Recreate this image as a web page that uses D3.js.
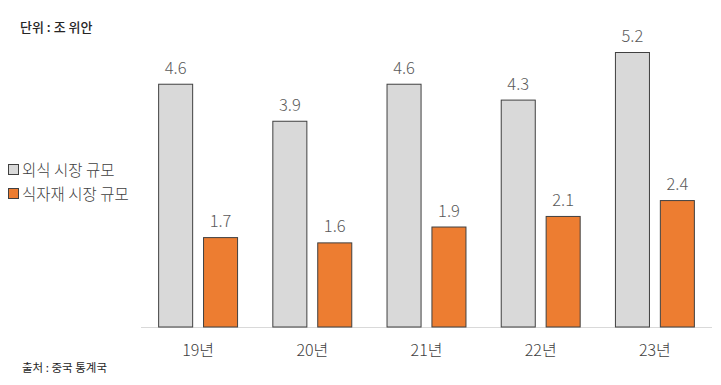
<!DOCTYPE html>
<html><head><meta charset="utf-8">
<script src="https://cdn.jsdelivr.net/npm/d3@7"></script>
<style>body{margin:0;background:#fff;} text{font-family:"Noto Sans CJK KR","Noto Sans",sans-serif;}</style>
</head><body><svg id="c" width="721" height="385"></svg>
<script>
const categories = ["19년","20년","21년","22년","23년"];
const seriesNames = ["외식 시장 규모","식자재 시장 규모"];
const foodService = [4.6, 3.9, 4.6, 4.3, 5.2];
const ingredients = [1.7, 1.6, 1.9, 2.1, 2.4];
const colors = ["#d9d9d9","#ed7d31"];

const svg = d3.select("#c");
const x0 = d3.scaleBand().domain(categories).range([141, 712]).paddingInner(0.3).paddingOuter(0.15);
const x1 = d3.scaleBand().domain([0,1]).range([0, x0.bandwidth()]).paddingInner(0.22);
const y = d3.scaleLinear().domain([0, 5.2]).range([327, 52]);

const data = categories.map((c,i)=>({c, v:[foodService[i], ingredients[i]]}));

svg.append("line").attr("x1",141).attr("x2",712).attr("y1",y(0)+0.5).attr("y2",y(0)+0.5)
  .attr("stroke","#d9d9d9").attr("stroke-width",1);

const g = svg.selectAll("g.cat").data(data).enter().append("g").attr("transform",d=>`translate(${x0(d.c)},0)`);
g.selectAll("rect").data(d=>d.v.map((v,k)=>({v,k}))).enter().append("rect")
  .attr("x",d=>x1(d.k)+0.5).attr("width",x1.bandwidth()-1)
  .attr("y",d=>y(d.v)+0.5).attr("height",d=>y(0)-y(d.v)-0.5)
  .attr("fill",d=>colors[d.k]).attr("stroke","#404040").attr("stroke-width",1);
g.selectAll("text.val").data(d=>d.v.map((v,k)=>({v,k}))).enter().append("text")
  .attr("x",d=>x1(d.k)+x1.bandwidth()/2).attr("y",d=>y(d.v)-10)
  .attr("text-anchor","middle").attr("font-size",16.5).attr("font-weight",300).attr("fill","#595959")
  .text(d=>d.v.toFixed(1));

svg.selectAll("text.cat").data(categories).enter().append("text")
  .attr("x",d=>x0(d)+x0.bandwidth()/2).attr("y",356)
  .attr("text-anchor","middle").attr("font-size",16).attr("font-weight",300).attr("fill","#404040").text(d=>d);

seriesNames.forEach((n,i)=>{
  const yy = 170 + i*24;
  svg.append("rect").attr("x",8.5).attr("y",yy-5.5).attr("width",10).attr("height",10)
    .attr("fill",colors[i]).attr("stroke","#404040").attr("stroke-width",1);
  svg.append("text").attr("x",22).attr("y",yy+5.5).attr("font-size",15.5).attr("font-weight",300).attr("fill","#404040").text(n);
});

svg.append("text").attr("x",20).attr("y",32).attr("font-size",13).attr("fill","#262626").attr("font-weight",500).text("단위 : 조 위안");
svg.append("text").attr("x",22).attr("y",372).attr("font-size",11.5).attr("fill","#262626").text("출처 : 중국 통계국");
</script></body></html>
